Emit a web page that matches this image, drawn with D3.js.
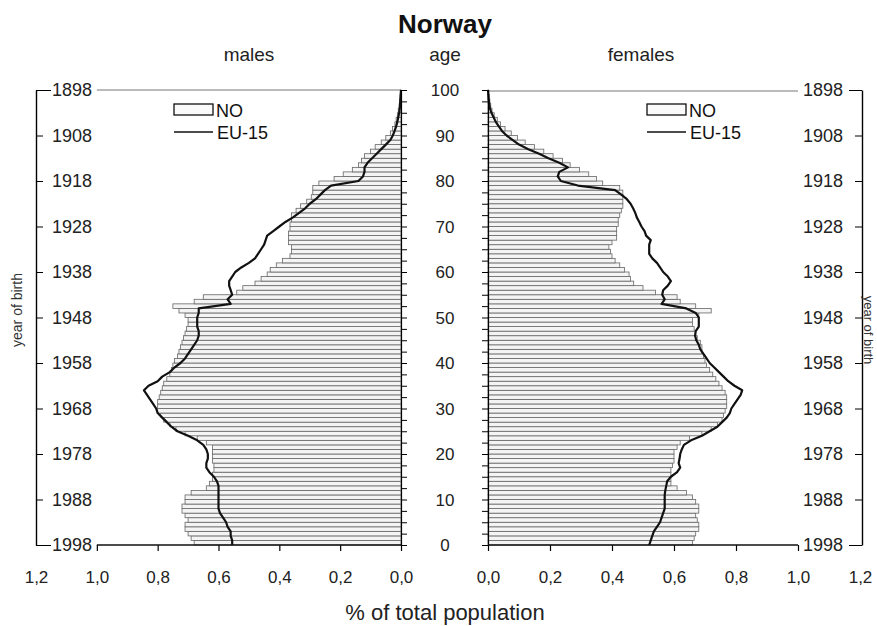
<!DOCTYPE html>
<html>
<head>
<meta charset="utf-8">
<script src="https://cdn.jsdelivr.net/npm/d3@7"></script>
<style>
  body { margin: 0; background: #fff; }
  svg { font-family: "Liberation Sans", Arial, sans-serif; }
</style>
</head>
<body>
<svg id="chart" width="877" height="626"></svg>
<script>
// % of total population by single year of age, 1998 (ages 0..99)
const maleNO = [
  .68, .69, .70, .71, .71, .70, .71, .72, .72, .71,
  .71, .69, .64, .63, .62, .62, .615, .615, .62, .62,
  .62, .62, .64, .67, .71, .74, .76, .78, .79, .80,
  .80, .80, .795, .79, .785, .78, .77, .76, .755, .75,
  .745, .735, .73, .725, .72, .715, .71, .705, .70, .70,
  .71, .73, .75, .68, .65, .54, .52, .48, .46, .44,
  .43, .41, .39, .365, .36, .36, .37, .37, .37, .365,
  .365, .36, .36, .345, .33, .31, .295, .29, .29, .27,
  .22, .19, .16, .14, .13, .12, .10, .085, .065, .05,
  .035, .028, .02, .016, .012, .009, .006, .004, .003, .002
];
const femaleNO = [
  .66, .665, .67, .68, .68, .675, .67, .68, .68, .67,
  .66, .64, .61, .59, .59, .59, .59, .595, .60, .60,
  .60, .61, .62, .65, .69, .72, .74, .755, .76, .765,
  .77, .77, .77, .765, .755, .745, .735, .725, .715, .705,
  .70, .695, .69, .69, .685, .675, .67, .665, .66, .66,
  .68, .72, .67, .62, .61, .54, .50, .47, .46, .455,
  .44, .425, .41, .40, .395, .39, .40, .415, .415, .415,
  .42, .42, .425, .43, .435, .435, .435, .435, .425, .37,
  .35, .325, .295, .265, .24, .21, .18, .15, .12, .095,
  .075, .055, .04, .03, .02, .013, .009, .006, .004, .002
];
// EU-15 reference profile, ages 0..100
const maleEU = [
  .555, .555, .56, .56, .57, .575, .585, .595, .60, .60,
  .60, .60, .60, .60, .605, .615, .63, .64, .64, .635,
  .635, .64, .65, .67, .70, .735, .755, .77, .785, .80,
  .805, .815, .825, .835, .845, .83, .80, .785, .76, .745,
  .725, .71, .70, .69, .68, .67, .665, .665, .67, .67,
  .67, .665, .665, .56, .57, .555, .56, .565, .565, .555,
  .545, .525, .50, .48, .47, .46, .45, .445, .44, .42,
  .40, .38, .355, .335, .315, .30, .28, .265, .25, .23,
  .14, .125, .12, .12, .11, .095, .08, .065, .05, .035,
  .027, .021, .016, .012, .009, .006, .004, .003, .002, .001, 0
];
const femaleEU = [
  .52, .525, .53, .535, .545, .555, .56, .565, .57, .57,
  .57, .57, .572, .575, .578, .59, .61, .62, .615, .618,
  .62, .625, .632, .655, .69, .715, .74, .755, .77, .78,
  .785, .795, .805, .815, .82, .795, .775, .76, .745, .73,
  .715, .705, .695, .685, .68, .672, .668, .67, .68, .68,
  .68, .67, .64, .56, .57, .562, .565, .58, .59, .58,
  .565, .555, .545, .53, .52, .52, .52, .525, .51, .505,
  .495, .488, .48, .475, .468, .46, .448, .43, .41, .29,
  .235, .225, .23, .258, .23, .195, .165, .13, .10, .08,
  .06, .045, .035, .025, .018, .011, .006, .004, .002, .001, 0
];
const ageTicks = [0, 10, 20, 30, 40, 50, 60, 70, 80, 90, 100];
const yearTicks = [1898, 1908, 1918, 1928, 1938, 1948, 1958, 1968, 1978, 1988, 1998];
const pctTicks = [0, 0.2, 0.4, 0.6, 0.8, 1.0, 1.2];

const svg = d3.select("#chart");
const plotTop = 90, plotBottom = 545;

const y = d3.scaleLinear().domain([0, 100]).range([plotBottom, plotTop]);
const yYear = d3.scaleLinear().domain([1998, 1898]).range([plotBottom, plotTop]);
const xL = d3.scaleLinear().domain([0, 1.2]).range([401, 36]);
const xR = d3.scaleLinear().domain([0, 1.2]).range([488, 860]);

const fmt = d3.formatLocale({decimal: ",", thousands: ".", grouping: [3], currency: ["", ""]}).format(".1f");

// bars
function bars(data, x) {
  svg.append("g").selectAll("rect")
    .data(data)
    .join("rect")
    .attr("x", d => Math.min(x(0), x(d)))
    .attr("width", d => Math.abs(x(d) - x(0)))
    .attr("y", (d, i) => y(i + 1))
    .attr("height", (d, i) => y(i) - y(i + 1))
    .attr("fill", "#f4f4f4")
    .attr("stroke", "#666")
    .attr("stroke-width", 0.8);
}
bars(maleNO, xL);
bars(femaleNO, xR);

// frame lines at top
svg.append("line").attr("x1", xL(1.0)).attr("x2", xL(0)).attr("y1", plotTop).attr("y2", plotTop)
  .attr("stroke", "#777").attr("stroke-width", 1);
svg.append("line").attr("x1", xR(0)).attr("x2", xR(1.0)).attr("y1", plotTop + 1).attr("y2", plotTop + 1)
  .attr("stroke", "#777").attr("stroke-width", 1);

// EU-15 lines
function euLine(data, x) {
  svg.append("path")
    .datum(data)
    .attr("fill", "none")
    .attr("stroke", "#111")
    .attr("stroke-width", 2.2)
    .attr("stroke-linejoin", "round")
    .attr("d", d3.line().x(d => x(d)).y((d, i) => y(i)));
}
euLine(maleEU, xL);
euLine(femaleEU, xR);

// inner age axes (ticks every 2.5 years)
const minor = d3.range(0, 100.1, 2.5);
svg.append("g").attr("transform", `translate(${xL(0)},0)`)
  .call(d3.axisRight(y).tickValues(minor).tickSize(6).tickFormat(""))
  .call(g => g.select(".domain").attr("stroke-width", 1.2));
svg.append("g").attr("transform", `translate(${xR(0)},0)`)
  .call(d3.axisLeft(y).tickValues(minor).tickSize(6).tickFormat(""))
  .call(g => g.select(".domain").attr("stroke-width", 1.2));

svg.append("g").selectAll("text")
  .data(ageTicks)
  .join("text")
  .attr("x", 445)
  .attr("y", d => y(d))
  .attr("dy", "0.36em")
  .attr("text-anchor", "middle")
  .attr("font-size", 17)
  .attr("fill", "#222")
  .text(d => d);

// outer year axes
svg.append("g").attr("transform", "translate(36,0)")
  .call(d3.axisRight(yYear).tickValues(yearTicks).tickSize(7).tickSizeOuter(0).tickPadding(9).tickFormat(d3.format("d")))
  .call(g => g.select(".domain").attr("stroke-width", 1.4))
  .call(g => g.selectAll(".tick line").attr("x2", d => (d === 1898 || d === 1998) ? 15 : 7))
  .call(g => g.selectAll(".tick text").attr("font-size", 18).attr("fill", "#222"));
svg.append("g").attr("transform", "translate(862,0)")
  .call(d3.axisLeft(yYear).tickValues(yearTicks).tickSize(7).tickSizeOuter(0).tickPadding(12).tickFormat(d3.format("d")))
  .call(g => g.select(".domain").attr("stroke-width", 1.4))
  .call(g => g.selectAll(".tick line").attr("x2", d => (d === 1898 || d === 1998) ? -13 : -7))
  .call(g => g.selectAll(".tick text").attr("font-size", 18).attr("fill", "#222"));

// bottom % axes
function pctAxis(x) {
  const g = svg.append("g").attr("transform", `translate(0,${plotBottom})`)
    .call(d3.axisBottom(x).tickValues(pctTicks).tickSize(6).tickFormat(fmt));
  g.select(".domain").remove();
  g.selectAll(".tick line").attr("display", d => d > 1.05 ? "none" : null).attr("stroke-width", 1.2);
  g.selectAll(".tick text").attr("y", 26).attr("font-size", 17).attr("fill", "#222");
  g.append("line").attr("x1", x(0)).attr("x2", x(1.0)).attr("stroke", "#111").attr("stroke-width", 1.4);
}
pctAxis(xL);
pctAxis(xR);

// titles
svg.append("text").attr("x", 445).attr("y", 33).attr("text-anchor", "middle")
  .attr("font-size", 26).attr("font-weight", "bold").attr("fill", "#111").text("Norway");
[["males", 249], ["age", 445], ["females", 641]].forEach(([t, x]) => {
  svg.append("text").attr("x", x).attr("y", 61).attr("text-anchor", "middle")
    .attr("font-size", 19).attr("fill", "#222").text(t);
});
svg.append("text").attr("x", 445).attr("y", 620).attr("text-anchor", "middle")
  .attr("font-size", 22).attr("fill", "#222").text("% of total population");
svg.append("text").attr("transform", "translate(22,310) rotate(-90)").attr("text-anchor", "middle")
  .attr("font-size", 14).attr("fill", "#333").text("year of birth");
svg.append("text").attr("transform", "translate(864,330) rotate(90)").attr("text-anchor", "middle")
  .attr("font-size", 13).attr("fill", "#333").text("year of birth");

// legends
function legend(x0) {
  const g = svg.append("g").attr("transform", `translate(${x0},0)`);
  g.append("rect").attr("x", 0).attr("y", 104).attr("width", 39).attr("height", 11)
    .attr("fill", "#fafafa").attr("stroke", "#111").attr("stroke-width", 1.3);
  g.append("text").attr("x", 42).attr("y", 116.5).attr("font-size", 18).attr("fill", "#111").text("NO");
  g.append("line").attr("x1", 0).attr("x2", 39).attr("y1", 132).attr("y2", 132)
    .attr("stroke", "#111").attr("stroke-width", 1.6);
  g.append("text").attr("x", 43).attr("y", 138.5).attr("font-size", 18).attr("fill", "#111").text("EU-15");
}
legend(174);
legend(647);
</script>
</body>
</html>
